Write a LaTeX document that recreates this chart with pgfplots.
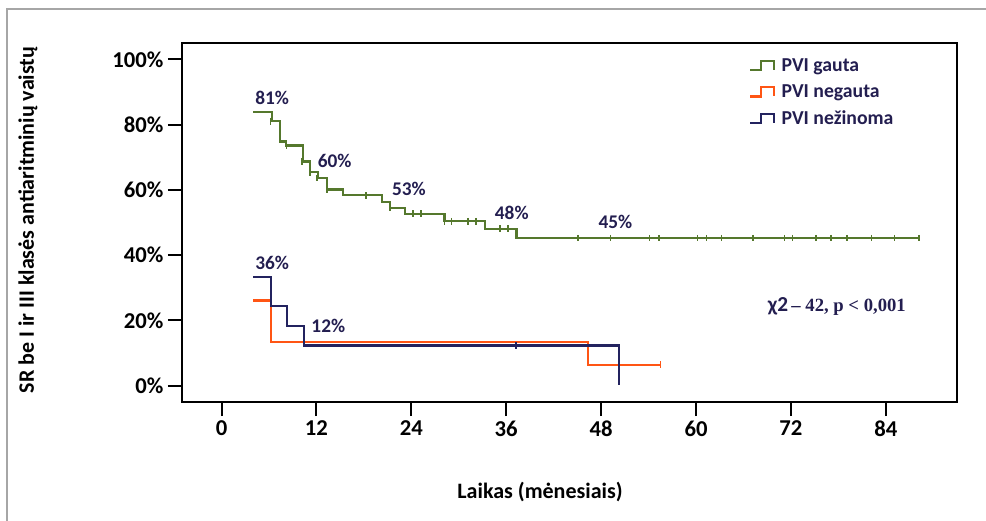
\documentclass[border=0pt]{standalone}
\usepackage{fontspec}
\setmainfont{Carlito}
\newfontfamily\serifbf{Liberation Serif}
\usepackage{pgfplots}
\pgfplotsset{compat=1.18}
\definecolor{cgreen}{RGB}{85,120,45}
\definecolor{corange}{RGB}{255,85,20}
\definecolor{cnavy}{RGB}{35,35,95}
\definecolor{ctext}{RGB}{35,30,80}
\pgfplotsset{
  steplegend/.style={legend image code/.code={
    \draw[##1,line width=1.6pt] (0cm,-0.12cm) -- (0.28cm,-0.12cm) -- (0.28cm,0.12cm) -- (0.62cm,0.12cm) -- (0.62cm,-0.12cm);}}
}
\begin{document}
\begin{tikzpicture}
\path[use as bounding box] (-136.5pt,-89.25pt) rectangle (603pt,301.5pt);
\draw[gray!70, line width=1.5pt] (-131.6pt,-89.25pt) -- (-131.6pt,294.4pt) -- (603pt,294.4pt);
\begin{axis}[
  at={(0,0)}, anchor=south west,
  scale only axis, width=581.25pt, height=269.25pt,
  xmin=-5, xmax=93, ymin=-5, ymax=105,
  axis line style={line width=1.5pt},
  xtick={0,12,24,36,48,60,72,84},
  xticklabels={0,12,24,36,48,60,72,84},
  ytick={0,20,40,60,80,100},
  yticklabels={0\%,20\%,40\%,60\%,80\%,100\%},
  xtick pos=bottom, ytick pos=left,
  tick align=outside,
  major tick length=10.5pt,
  tick style={line width=1.5pt, black},
  ticklabel style={font=\fontsize{17}{20}\selectfont\bfseries},
  /pgf/number format/assume math mode=true,
  xlabel={Laikas (mėnesiais)},
  ylabel={SR be I ir III klasės antiaritminių vaistų},
  xlabel style={font=\fontsize{16.5}{19}\selectfont\bfseries, at={(axis description cs:0.462,-0.251)}, anchor=center},
  ylabel style={font=\fontsize{16.5}{19}\selectfont\bfseries, at={(axis description cs:-0.1987,0.507)}, anchor=center},
  legend style={at={(axis cs:66.2,102)}, anchor=north west, draw=none, fill=none,
    font=\fontsize{14.8}{16}\selectfont\bfseries, text=ctext, row sep=4.5pt,
    nodes={inner xsep=5pt}},
  legend cell align=left,
  clip=false,
]
\addplot[const plot, cgreen, line width=1.6pt, steplegend] coordinates {
(4,83.8) (6.4,81.0) (7.4,74.8) (8.2,73.6) (10.3,68.7) (11.2,65.4) (12.2,63.6) (13.3,60.1)
(15.4,58.3) (20.3,56.2) (21.3,54.4) (23.2,52.7) (28.2,50.4) (33.3,48.1) (37.3,45.2) (88.2,45.2)};
\addlegendentry{PVI gauta}
\addplot[const plot, corange, line width=1.6pt, steplegend] coordinates {
(4,26.1) (6.3,13.3) (46.3,6.4) (55.5,6.4)};
\addlegendentry{PVI negauta}
\addplot[const plot, cnavy, line width=1.6pt, steplegend] coordinates {
(4,33.4) (6.3,24.3) (8.3,18.4) (10.4,12.3) (50.3,0.2)};
\addlegendentry{PVI nežinoma}
\addplot[only marks, mark=|, mark size=2.5pt, cgreen, mark options={line width=1.2pt}, forget plot] coordinates {
(6.2,81.0) (8.2,73.6) (10.2,68.7) (11.2,65.4) (12.1,63.6) (13.3,60.1) (18.3,58.3) (21.3,54.4)
(24.2,52.7) (25.2,52.7) (28.2,50.4) (29.1,50.4) (31.2,50.4) (32.2,50.4) (35.2,48.1) (36.2,48.1)
(45.1,45.2) (49.2,45.2) (54.1,45.2) (55.3,45.2) (60.2,45.2) (61.3,45.2) (63.2,45.2) (67.2,45.2)
(71.2,45.2) (72.2,45.2) (75.2,45.2) (77.1,45.2) (79.1,45.2) (82.2,45.2) (85.1,45.2) (88.2,45.2)};
\addplot[only marks, mark=|, mark size=2.5pt, corange, mark options={line width=1.2pt}, forget plot] coordinates {(55.5,6.4)};
\addplot[only marks, mark=|, mark size=2.5pt, cnavy, mark options={line width=1.2pt}, forget plot] coordinates {(37.2,12.3)};
\begin{scope}[every node/.style={text=ctext, font=\fontsize{14.5}{16}\selectfont\bfseries}]
\node at (axis cs:6.4,88.3) {81\%};
\node at (axis cs:14.3,69) {60\%};
\node at (axis cs:23.7,60.4) {53\%};
\node at (axis cs:36.7,52.8) {48\%};
\node at (axis cs:49.8,50.3) {45\%};
\node at (axis cs:6.4,37.7) {36\%};
\node at (axis cs:13.5,18.4) {12\%};
\node at (axis cs:77.8,24.2) {{\fontsize{16}{18}\selectfont χ2}\,{\serifbf\fontsize{14}{16}\selectfont\bfseries – 42, p < 0,001}};
\end{scope}
\end{axis}
\end{tikzpicture}
\end{document}
